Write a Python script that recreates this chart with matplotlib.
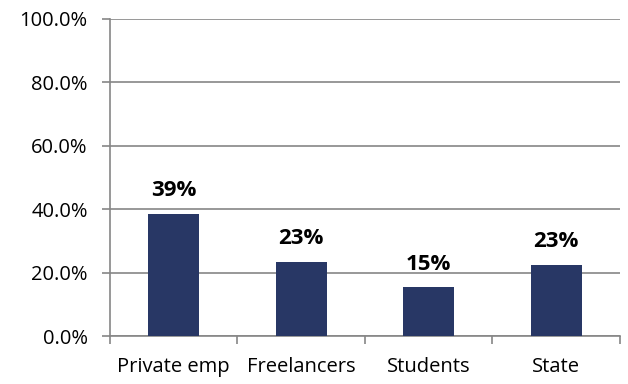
import matplotlib.pyplot as plt
from matplotlib.ticker import FuncFormatter

categories = ["Private emp", "Freelancers", "Students", "State"]
values = [38.6, 23.4, 15.4, 22.4]
value_labels = ["39%", "23%", "15%", "23%"]
y_ticks = [0, 20, 40, 60, 80, 100]

BAR_COLOR = "#283765"
GRID_COLOR = "#868686"

plt.rcParams["font.family"] = ["Open Sans", "DejaVu Sans"]

fig = plt.figure(figsize=(6.28, 3.84), dpi=100)
ax = fig.add_axes([0.175, 0.125, 0.812, 0.826])

x = list(range(len(categories)))
bars = ax.bar(x, values, width=0.4, color=BAR_COLOR, zorder=3)

# value labels above bars
for bar, lab in zip(bars, value_labels):
    ax.annotate(lab, (bar.get_x() + bar.get_width() / 2, bar.get_height()),
                xytext=(0, 9), textcoords="offset points",
                ha="center", va="bottom", fontsize=16, fontweight="bold")

ax.set_xlim(-0.5, len(categories) - 0.5)
ax.set_ylim(0, 100)
ax.set_yticks(y_ticks)
ax.yaxis.set_major_formatter(FuncFormatter(lambda v, p: f"{v:.1f}%"))
ax.yaxis.grid(True, color=GRID_COLOR, linewidth=1.2, zorder=0)

ax.set_xticks(x)
ax.set_xticklabels(categories)
ax.set_xticks([i - 0.5 for i in range(len(categories) + 1)], minor=True)
ax.tick_params(axis="x", which="major", length=0, pad=15, labelsize=14.5)
ax.tick_params(axis="x", which="minor", length=6, width=1.2, color=GRID_COLOR)
ax.tick_params(axis="y", length=6, width=1.2, color=GRID_COLOR, pad=10, labelsize=14.5)

for side in ["top", "right"]:
    ax.spines[side].set_visible(False)
for side in ["left", "bottom"]:
    ax.spines[side].set_color(GRID_COLOR)
    ax.spines[side].set_linewidth(1.2)

fig.savefig("out.png", dpi=100)
